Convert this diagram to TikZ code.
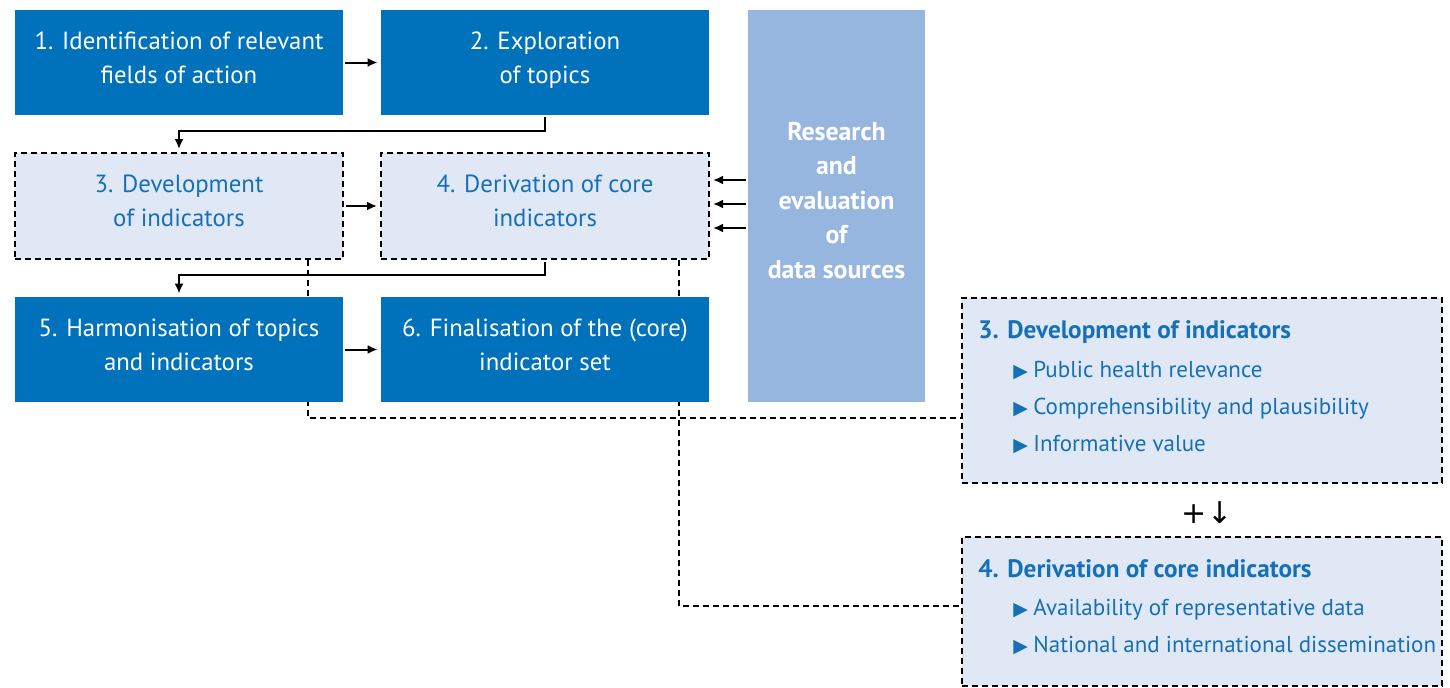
\documentclass[tikz,border=0pt]{standalone}
\usepackage{fontspec}
\setmainfont{PT Sans}
\newfontfamily\symfont{DejaVu Sans}
\usepackage{xcolor}
\usepackage{tikz}
\usetikzlibrary{arrows.meta,backgrounds}

\definecolor{stepblue}{HTML}{0071BB}
\definecolor{steplight}{HTML}{E1E8F5}
\definecolor{stepmid}{HTML}{96B6E0}
\definecolor{steptext}{HTML}{1570B8}
\newcommand{\tri}{\makebox[10pt][l]{\symfont\fontsize{9.5}{9.5}\selectfont ▶}}

\begin{document}
\begin{tikzpicture}[x=0.5pt,y=-0.5pt,
    font=\fontsize{12.4}{17}\selectfont,
    stepfill/.style={fill=stepblue,text=white,minimum width=164pt,minimum height=52.5pt,
        align=center,inner sep=0pt,execute at end node={\rule[-5pt]{0pt}{5pt}}},
    stepdash/.style={fill=steplight,text=steptext,draw=black,line width=1pt,
        dash pattern=on 3pt off 2pt,minimum width=164pt,minimum height=53pt,
        align=center,inner sep=0pt,execute at end node={\rule[-5pt]{0pt}{5pt}}},
    detailbox/.style={fill=steplight,draw=black,line width=1pt,
        dash pattern=on 3pt off 2pt,minimum width=240pt,inner sep=0pt},
    dtitle/.style={anchor=base west,text=steptext,font=\fontsize{12.6}{14}\selectfont\bfseries,inner sep=0pt},
    ditem/.style={anchor=base west,text=steptext,font=\fontsize{11.5}{14}\selectfont,inner sep=0pt},
    arr/.style={-{Latex[length=5pt,width=4.5pt]},line width=1pt,shorten <=1pt,shorten >=1.5pt},
    dashline/.style={line width=1pt,dash pattern=on 3pt off 2pt}]

    \useasboundingbox (0,0) rectangle (1450,687);

    % 六个步骤
    \node[stepfill] (s1) at (179,62.5) {1. Identification of relevant\\fields of action};
    \node[stepfill] (s2) at (545,62.5) {2. Exploration\\of topics};
    \node[stepdash] (s3) at (179,206) {3. Development\\of indicators};
    \node[stepdash] (s4) at (545,206) {4. Derivation of core\\indicators};
    \node[stepfill] (s5) at (179,349.5) {5. Harmonisation of topics\\and indicators};
    \node[stepfill] (s6) at (545,349.5) {6. Finalisation of the (core)\\indicator set};

    % 数据来源
    \node[fill=stepmid,text=white,font=\fontsize{12.9}{17.25}\selectfont\bfseries,
        minimum width=88.5pt,minimum height=196pt,align=center,inner sep=0pt,
        execute at end node={\rule[-6pt]{0pt}{6pt}}]
        (res) at (836.5,206) {Research\\and\\evaluation\\of\\data sources};

    % 右侧说明框
    \node[detailbox,minimum height=92.5pt] (d3) at (1202,390.5) {};
    \node[dtitle] (d3t) at (978,338) {3. Development of indicators};
    \node[ditem] (d3a) at (1013,377) {\tri Public health relevance};
    \node[ditem] (d3b) at (1013,414) {\tri Comprehensibility and plausibility};
    \node[ditem] (d3c) at (1013,451) {\tri Informative value};

    \node (plus) at (1207,513) {\symfont\fontsize{15}{15}\selectfont +↓};

    \node[detailbox,minimum height=74.5pt] (d4) at (1202,611.5) {};
    \node[dtitle] (d4t) at (978,577) {4. Derivation of core indicators};
    \node[ditem] (d4a) at (1013,615) {\tri Availability of representative data};
    \node[ditem] (d4b) at (1013,652) {\tri National and international dissemination};

    % 箭头
    \draw[arr] (s1) -- (s2);
    \draw[arr] (s2.south) -- ++(0,16) -| (s3.north);
    \draw[arr] (s3) -- (s4);
    \foreach \dy in {13pt,1pt,-11pt}
        \draw[arr] ([yshift=\dy]res.west) -- ([yshift=\dy]s4.east);
    \draw[arr] (s4.south) -- ++(0,15) -| (s5.north);
    \draw[arr] (s5) -- (s6);

    % 虚线连到说明框
    \begin{scope}[on background layer]
        \draw[dashline] (s3.south east) ++(-36,0) |- ([yshift=-13.75pt]d3.west);
        \draw[dashline] (s4.south east) ++(-31,0) |- ([yshift=2.75pt]d4.west);
    \end{scope}
\end{tikzpicture}
\end{document}
